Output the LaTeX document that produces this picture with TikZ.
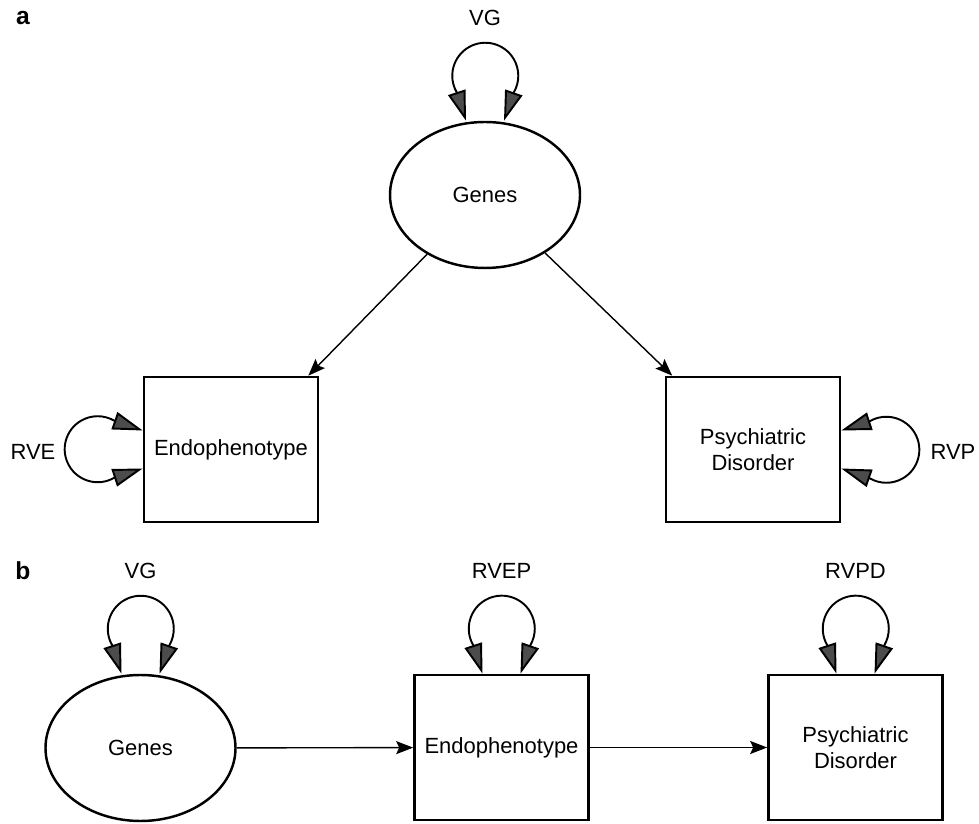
\documentclass[tikz,border=0pt]{standalone}
\usepackage{fontspec}
\setmainfont{Liberation Sans}
\usetikzlibrary{arrows.meta,shapes.geometric}

\tikzset{
  latent/.style={draw, ellipse, line width=1.4pt, minimum width=3.8cm, minimum height=2.92cm, inner sep=0pt},
  observed/.style={draw, rectangle, line width=1.5pt, minimum width=3.48cm, minimum height=2.9cm, align=center},
  patharrow/.style={line width=0.8pt, -{Stealth[length=3.4mm,width=2.6mm,inset=0.6mm]}},
  varline/.style={line width=1.1pt, {Triangle[length=6mm,width=3.6mm,fill=black!70]}-{Triangle[length=6mm,width=3.6mm,fill=black!70]}},
  varloop/.pic={\draw[varline] (-0.38,0) -- ++(-0.186,0.57) arc[start angle=210,end angle=-30,radius=0.66] -- (0.38,0);},
  panel/.style={font=\fontsize{14}{16}\selectfont\bfseries}
}

\begin{document}
\begin{tikzpicture}[font=\fontsize{12.5}{14.6}\selectfont]
\useasboundingbox (0,0) rectangle (19.58,16.46);
% panel a
\node[panel] (lblA) at (0.46,16.10) {a};
\node[latent] (genesA) at (9.70,12.56) {Genes};
\node[observed] (endoA) at (4.62,7.47) {Endophenotype};
\node[observed] (psyA) at (15.06,7.47) {Psychiatric\\Disorder};
\node (vgA) at (9.70,16.10) {VG};
\node (rve) at (0.66,7.42) {RVE};
\node (rvp) at (19.06,7.42) {RVP};
\pic at (genesA.north) {varloop};
\pic[rotate=90] at (endoA.west) {varloop};
\pic[rotate=-90] at (psyA.east) {varloop};
\draw[patharrow] (genesA) -- ([xshift=-0.22cm]endoA.north east);
\draw[patharrow] (genesA) -- ([xshift=0.15cm]psyA.north west);
% panel b
\node[panel] (lblB) at (0.46,5.04) {b};
\node[latent] (genesB) at (2.81,1.50) {Genes};
\node[observed] (endoB) at (10.03,1.51) {Endophenotype};
\node[observed] (psyB) at (17.11,1.51) {Psychiatric\\Disorder};
\node (vgB) at (2.81,5.04) {VG};
\node (rvep) at (10.03,5.04) {RVEP};
\node (rvpd) at (17.11,5.04) {RVPD};
\pic at (genesB.north) {varloop};
\pic at (endoB.north) {varloop};
\pic at (psyB.north) {varloop};
\draw[patharrow] (genesB) -- (endoB);
\draw[patharrow] (endoB) -- (psyB);
\end{tikzpicture}
\end{document}
